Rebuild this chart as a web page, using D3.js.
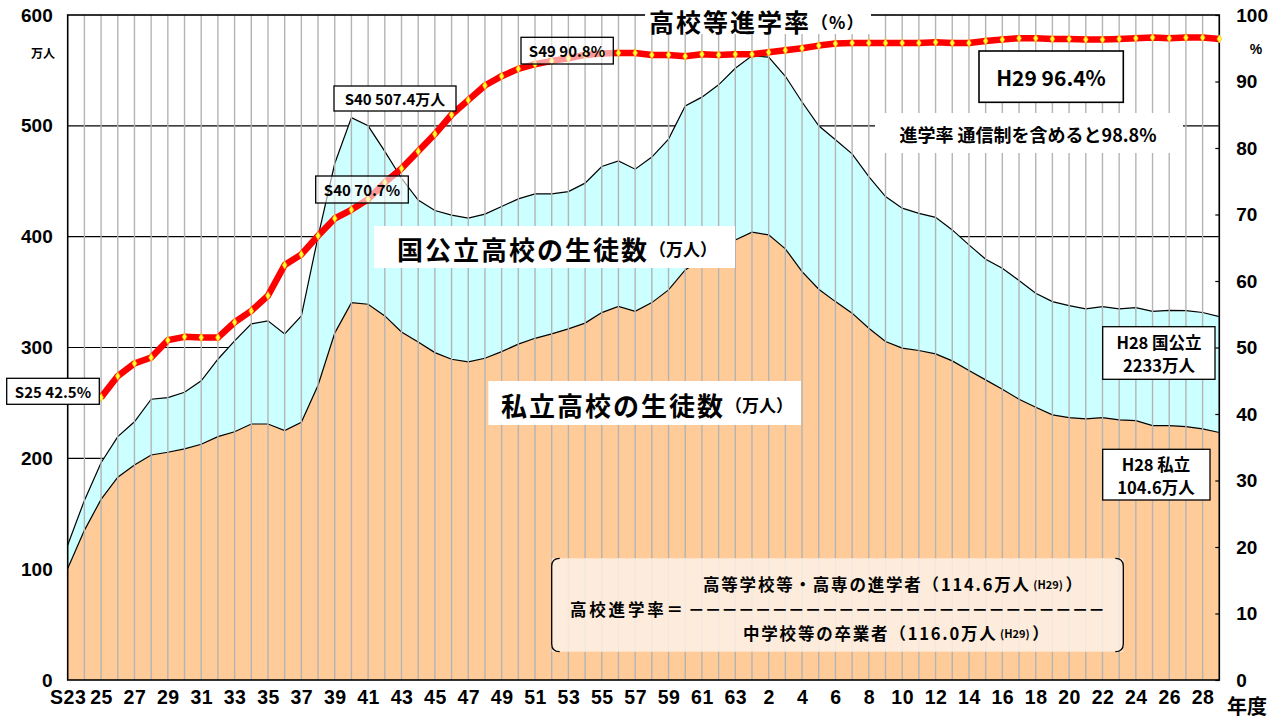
<!DOCTYPE html>
<html>
<head>
<meta charset="utf-8">
<script src="https://cdn.jsdelivr.net/npm/d3@7"></script>
<style>
  body { margin: 0; background: #fff; }
  svg { display: block; }
</style>
</head>
<body>
<div id="chart"></div>
<script>
// 年度 S23(1948) 〜 H29(2017)
var firstYear = 1948;
var lastYear = 2017;

// 国公立の生徒数（万人）下の層
var publicStudents = [
  100.5, 135, 163, 183, 194, 203, 205.5, 208.5, 212.7, 219.6,
  224, 231, 231, 225, 232.6, 266, 313, 340.5, 339, 328.5,
  314, 305, 295.4, 289.4, 287, 290.3, 296.3, 303, 308.3, 312.3,
  316.8, 322, 331.5, 337, 332.6, 340.5, 352, 370, 380, 390,
  397, 404, 401.6, 389, 368.5, 352.6, 341.4, 331, 317.4, 305.4,
  299.4, 297.3, 294.2, 287.9, 279.2, 270.8, 262.4, 253.3, 246.1, 239.2,
  236.8, 235.6, 236.8, 234.7, 234, 229.5, 229.5, 228.6, 226.5, 223.3
];

// 私立の生徒数（万人）上に積み上げ
var privateStudents = [
  21.3, 27, 33, 36.6, 39, 50.3, 49.3, 51.1, 57.2, 69.8,
  82, 90.3, 93, 87.3, 95.9, 134, 153, 166.9, 161, 148.5,
  138.7, 128, 128.2, 130, 129.7, 130, 130.9, 131.1, 130.3, 126.3,
  123.9, 126.3, 131.8, 131.4, 128.3, 131.3, 136, 148, 145.9, 147,
  155, 159.2, 160.4, 155.7, 153, 147.4, 146, 143.7, 136.8, 130.8,
  126.3, 123.7, 123.2, 118.2, 113.4, 108.9, 109.1, 107.1, 102.8, 102.2,
  101, 99.2, 100.1, 100.1, 102, 103.1, 104, 104.6, 105.1, 104.6
];

// 高校等進学率（%） S25(1950) 〜 H29(2017)
var rateStart = 1950;
var enrollRate = [
  42.5, 45.7, 47.6, 48.5, 51.1, 51.6, 51.5, 51.5, 53.8, 55.5,
  57.8, 62.4, 64.0, 66.8, 69.4, 70.7, 72.3, 74.8, 76.9, 79.5,
  82.1, 85.0, 87.2, 89.4, 90.8, 91.9, 92.6, 93.1, 93.5, 94.0,
  94.2, 94.3, 94.3, 94.0, 94.0, 93.8, 94.1, 94.0, 94.1, 94.1,
  94.4, 94.7, 95.0, 95.4, 95.7, 95.8, 95.8, 95.8, 95.8, 95.8,
  95.9, 95.8, 95.8, 96.1, 96.3, 96.5, 96.5, 96.4, 96.4, 96.3,
  96.3, 96.4, 96.5, 96.6, 96.5, 96.6, 96.6, 96.4
];

// x軸ラベル（2年ごと）
var tickLabels = [
  "S23", "25", "27", "29", "31", "33", "35", "37", "39", "41", "43", "45",
  "47", "49", "51", "53", "55", "57", "59", "61", "63", "2", "4", "6",
  "8", "10", "12", "14", "16", "18", "20", "22", "24", "26", "28"
];
var leftTicks = [0, 100, 200, 300, 400, 500, 600];
var rightTicks = [0, 10, 20, 30, 40, 50, 60, 70, 80, 90, 100];

var W = 1285, H = 718;
var plot = {left: 67.7, right: 1219.3, top: 15, bottom: 680};
var jp = "'Noto Sans CJK JP', 'Noto Sans', sans-serif";
var num = "'Liberation Sans', Arial, sans-serif";

var svg = d3.select("#chart").append("svg")
  .attr("width", W).attr("height", H);

var x = d3.scaleLinear().domain([firstYear, lastYear]).range([plot.left, plot.right]);
var yL = d3.scaleLinear().domain([0, 600]).range([plot.bottom, plot.top]);
var yR = d3.scaleLinear().domain([0, 100]).range([plot.bottom, plot.top]);

// horizontal grid (behind areas)
svg.append("g")
  .selectAll("line")
  .data(leftTicks.slice(1, -1))
  .enter().append("line")
    .attr("x1", plot.left).attr("x2", plot.right)
    .attr("y1", function (d) { return yL(d); })
    .attr("y2", function (d) { return yL(d); })
    .attr("stroke", "#000").attr("stroke-width", 1.2);

// stacked areas
var rows = publicStudents.map(function (p, i) {
  return {year: firstYear + i, pub: p, total: p + privateStudents[i]};
});

var areaPub = d3.area()
  .x(function (d) { return x(d.year); })
  .y0(yL(0))
  .y1(function (d) { return yL(d.pub); });
var areaPriv = d3.area()
  .x(function (d) { return x(d.year); })
  .y0(function (d) { return yL(d.pub); })
  .y1(function (d) { return yL(d.total); });

svg.append("path").datum(rows).attr("d", areaPriv).attr("fill", "#ccffff");
svg.append("path").datum(rows).attr("d", areaPub).attr("fill", "#ffcc99");

var linePub = d3.line().x(function (d) { return x(d.year); }).y(function (d) { return yL(d.pub); });
var lineTot = d3.line().x(function (d) { return x(d.year); }).y(function (d) { return yL(d.total); });
svg.append("path").datum(rows).attr("d", lineTot).attr("fill", "none").attr("stroke", "#000").attr("stroke-width", 1.2);
svg.append("path").datum(rows).attr("d", linePub).attr("fill", "none").attr("stroke", "#000").attr("stroke-width", 1.2);

// vertical grid, one per year (over areas)
svg.append("g")
  .selectAll("line")
  .data(rows.slice(1))
  .enter().append("line")
    .attr("x1", function (d) { return x(d.year); })
    .attr("x2", function (d) { return x(d.year); })
    .attr("y1", plot.top).attr("y2", plot.bottom)
    .attr("stroke", "#b4b4b4").attr("stroke-width", 1.4);

// frame
svg.append("rect")
  .attr("x", plot.left).attr("y", plot.top)
  .attr("width", plot.right - plot.left).attr("height", plot.bottom - plot.top)
  .attr("fill", "none").attr("stroke", "#000").attr("stroke-width", 1.6);

// axes
var axL = svg.append("g")
  .attr("transform", "translate(" + plot.left + ",0)")
  .call(d3.axisLeft(yL).tickValues(leftTicks).tickSize(0).tickPadding(15));
var axR = svg.append("g")
  .attr("transform", "translate(" + plot.right + ",0)")
  .call(d3.axisRight(yR).tickValues(rightTicks).tickSizeInner(-4).tickSizeOuter(0).tickPadding(17));
var axB = svg.append("g")
  .attr("transform", "translate(0," + plot.bottom + ")")
  .call(d3.axisBottom(x)
    .tickValues(tickLabels.map(function (t, i) { return firstYear + i * 2; }))
    .tickFormat(function (d, i) { return tickLabels[i]; })
    .tickSize(0).tickPadding(10));

[axL, axR, axB].forEach(function (a) {
  a.select(".domain").remove();
  a.selectAll("text")
    .attr("font-family", num).attr("font-weight", "bold")
    .attr("font-size", 19).attr("fill", "#000");
});
axR.selectAll("line").attr("stroke", "#000").attr("stroke-width", 1.2);
axB.selectAll("text").attr("font-size", 19.5).attr("letter-spacing", 0.5);

svg.append("text").text("万人")
  .attr("x", 43).attr("y", 52).attr("text-anchor", "middle")
  .attr("dominant-baseline", "central")
  .attr("font-family", jp).attr("font-size", 12).attr("font-weight", "bold");
svg.append("text").text("%")
  .attr("x", 1256).attr("y", 49).attr("text-anchor", "middle")
  .attr("dominant-baseline", "central")
  .attr("font-family", num).attr("font-size", 14).attr("font-weight", "bold");
svg.append("text").text("年度")
  .attr("x", 1227).attr("y", 705)
  .attr("dominant-baseline", "central")
  .attr("font-family", jp).attr("font-size", 20).attr("font-weight", "bold");

// enrolment rate line
var rateRows = enrollRate.map(function (r, i) { return {year: rateStart + i, rate: r}; });
svg.append("path").datum(rateRows)
  .attr("d", d3.line().x(function (d) { return x(d.year); }).y(function (d) { return yR(d.rate); }))
  .attr("fill", "none").attr("stroke", "#ff0000")
  .attr("stroke-width", 6.5).attr("stroke-linejoin", "round");
svg.append("g")
  .selectAll("path")
  .data(rateRows)
  .enter().append("path")
    .attr("d", d3.symbol().type(d3.symbolDiamond).size(20))
    .attr("transform", function (d) { return "translate(" + x(d.year) + "," + yR(d.rate) + ")"; })
    .attr("fill", "#ffff33").attr("stroke", "#ffaa00").attr("stroke-width", 0.6);

// label helpers
function box(x0, y0, w, h, opts) {
  opts = opts || {};
  svg.append("rect")
    .attr("x", x0).attr("y", y0).attr("width", w).attr("height", h)
    .attr("fill", "#fff").attr("fill-opacity", opts.opacity == null ? 1 : opts.opacity)
    .attr("stroke", opts.stroke === false ? "none" : "#000")
    .attr("stroke-width", opts.sw || 1.3);
}
function label(str, cx, cy, size, anchor) {
  return svg.append("text").text(str)
    .attr("x", cx).attr("y", cy)
    .attr("text-anchor", anchor || "middle")
    .attr("dominant-baseline", "central")
    .attr("font-family", jp).attr("font-weight", "bold")
    .attr("font-size", size).attr("fill", "#000");
}

// title
box(645, 2, 226, 32, {stroke: false});
var title = label("高校等進学率", 649, 21, 25, "start").attr("letter-spacing", 2);
title.append("tspan").attr("font-size", 17).attr("letter-spacing", 1).text("（%）");

box(334, 86, 122, 25);
label("S40 507.4万人", 395, 98.5, 15);
box(315.7, 176, 92.6, 27, {opacity: 0.6});
label("S40 70.7%", 362, 189.5, 15);
box(521, 37.3, 92.3, 26.7, {opacity: 0.6});
label("S49 90.8%", 567, 50.7, 15);
box(6.7, 378.3, 92.6, 26);
label("S25 42.5%", 53, 391.3, 15);

box(979, 51, 144.3, 51.3, {sw: 1.6});
label("H29 96.4%", 1051, 76.7, 21);

box(875, 113, 308, 40, {stroke: false});
label("進学率 通信制を含めると98.8%", 1028, 133.5, 18);

box(374, 226, 361, 42, {stroke: false});
var l1 = label("国公立高校の生徒数", 397, 248, 26, "start").attr("letter-spacing", 2);
l1.append("tspan").attr("font-size", 17).attr("letter-spacing", 0).text("（万人）");

box(488.3, 381, 312.7, 44, {stroke: false});
var l2 = label("私立高校の生徒数", 501, 404, 26, "start").attr("letter-spacing", 2);
l2.append("tspan").attr("font-size", 17).attr("letter-spacing", 0).text("（万人）");

box(1102.7, 326.7, 112.3, 52.6);
label("H28 国公立", 1159, 342, 16.5);
label("2233万人", 1159, 365, 16.5);

box(1102.7, 449.3, 107.3, 50.7);
label("H28 私立", 1156, 464, 16.5);
label("104.6万人", 1156, 487, 16.5);

// formula panel
var fx0 = 551.7, fx1 = 1123.3, fy0 = 558.3, fy1 = 651.7, rr = 8;
svg.append("rect")
  .attr("x", fx0).attr("y", fy0).attr("width", fx1 - fx0).attr("height", fy1 - fy0)
  .attr("fill", "#fdf1e6").attr("fill-opacity", 0.85);
svg.append("path")
  .attr("d", "M" + (fx0 + rr) + "," + fy0 + " Q" + fx0 + "," + fy0 + " " + fx0 + "," + (fy0 + rr) +
             " L" + fx0 + "," + (fy1 - rr) + " Q" + fx0 + "," + fy1 + " " + (fx0 + rr) + "," + fy1)
  .attr("fill", "none").attr("stroke", "#000").attr("stroke-width", 1.3);
svg.append("path")
  .attr("d", "M" + (fx1 - rr) + "," + fy0 + " Q" + fx1 + "," + fy0 + " " + fx1 + "," + (fy0 + rr) +
             " L" + fx1 + "," + (fy1 - rr) + " Q" + fx1 + "," + fy1 + " " + (fx1 - rr) + "," + fy1)
  .attr("fill", "none").attr("stroke", "#000").attr("stroke-width", 1.3);

var f1 = label("高等学校等・高専の進学者（114.6万人", 703, 584, 16.5, "start").attr("letter-spacing", 1.8);
f1.append("tspan").attr("font-size", 11).attr("letter-spacing", 0).text(" (H29) ");
f1.append("tspan").attr("letter-spacing", 0).text("）");
label("高校進学率＝", 570, 608.5, 16.5, "start").attr("letter-spacing", 2.8);
label("－－－－－－－－－－－－－－－－－－－－－－－－－", 688, 608.5, 16.5, "start")
  .attr("textLength", 417).attr("lengthAdjust", "spacingAndGlyphs");
var f3 = label("中学校等の卒業者（116.0万人", 743, 633, 16.5, "start").attr("letter-spacing", 1.8);
f3.append("tspan").attr("font-size", 11).attr("letter-spacing", 0).text(" (H29) ");
f3.append("tspan").attr("letter-spacing", 0).text("）");
</script>
</body>
</html>
